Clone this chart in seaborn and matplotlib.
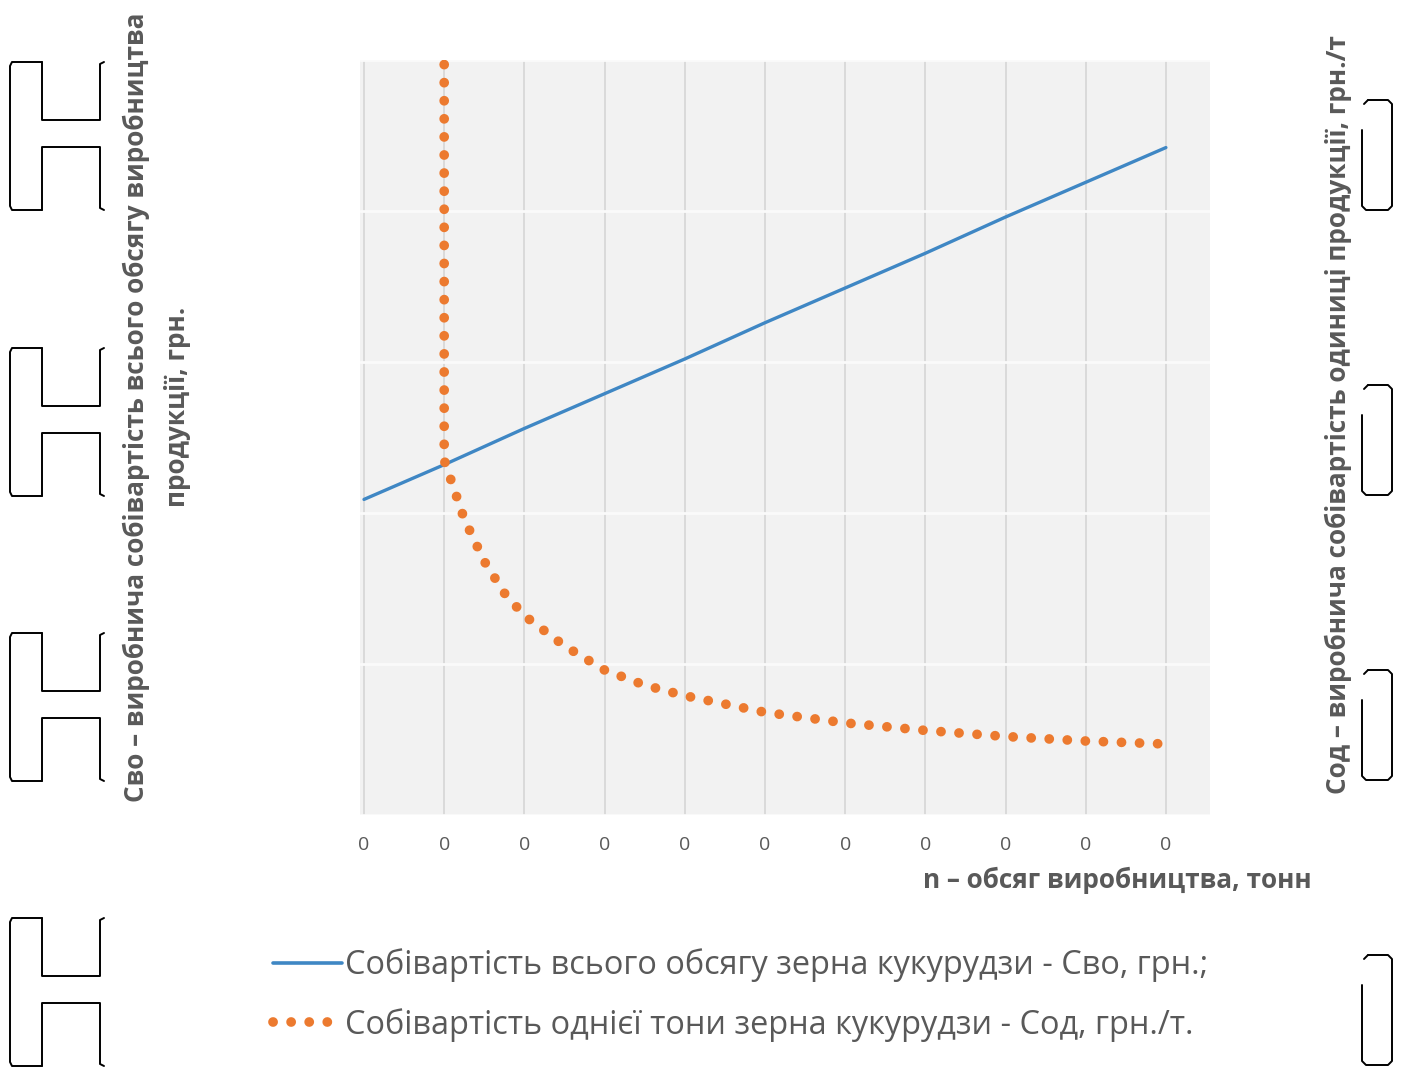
import numpy as np
import pandas as pd
import matplotlib
matplotlib.use("Agg")
import matplotlib.pyplot as plt
from matplotlib.lines import Line2D
import seaborn as sns

# дані
n_tick_labels = ["0"] * 11
n_total = [0, 1, 2, 3, 4, 5, 6, 7, 8, 9, 10]
c_total = [209, 232, 256, 279, 302, 326, 349, 372, 396, 419, 442]

n_unit = [1, 1, 1.25, 1.5, 1.75, 2, 2.5, 3, 3.5, 4, 5, 6, 7, 8, 9, 10]
c_unit = [497, 235, 196, 168, 147, 132, 112, 96, 86, 79, 68, 61, 56, 52, 49, 47]

label_total = "Собівартість всього обсягу зерна кукурудзи - Сво, грн.;"
label_unit = "Собівартість однієї тони зерна кукурудзи - Сод, грн./т."

sns.set_theme(style="white")
plt.rcParams['font.family'] = ['Open Sans', 'DejaVu Sans']

W, H = 1407, 1067
fig = plt.figure(figsize=(W / 100, H / 100), dpi=100)
ax = fig.add_axes([360 / W, 1 - 815 / H, 850 / W, 755 / H])
ax2 = ax.twinx()

gray = "#595959"
blue = "#3f87c4"
orange = "#ec7a2f"
dots = (0, (0.01, 1.85))

df_total = pd.DataFrame({"n": n_total, "c": c_total})
df_unit = pd.DataFrame({"n": n_unit, "c": c_unit})

sns.lineplot(data=df_total, x="n", y="c", ax=ax, color=blue, lw=2.4,
             sort=False, estimator=None, legend=False)
sns.lineplot(data=df_unit, x="n", y="c", ax=ax2, color=orange, lw=7,
             sort=False, estimator=None, legend=False)
for ln in ax2.get_lines():
    ln.set_linestyle(dots)
    ln.set_dash_capstyle("round")

ax.set_facecolor("#f2f2f2")
ax.set_xlim(-0.05, 10.55)
ax.set_ylim(0, 500)
ax2.set_ylim(0, 500)
ax.set_xticks(n_total)
ax.set_xticklabels(n_tick_labels, color=gray, fontsize=14)
ax.tick_params(axis="x", length=0, pad=15)
ax.set_yticks([0, 100, 200, 300, 400, 500])
ax.set_yticklabels([])
ax2.set_yticks([])
ax.tick_params(axis="y", length=0)
ax.grid(axis="x", color="#d6d6d6", lw=1.2)
ax.grid(axis="y", color="#fafafa", lw=2)
for a in (ax, ax2):
    for s in a.spines.values():
        s.set_visible(False)
ax.set_xlabel("")
ax.set_ylabel("")
ax2.set_ylabel("")

fig.text(157 / W, 1 - 407 / H,
         "Сво – виробнича собівартість всього обсягу виробництва\nпродукції, грн.",
         rotation=90, ha="center", va="center", fontsize=18.8, fontweight="bold",
         color=gray, linespacing=1.65, multialignment="center")
fig.text(1338 / W, 1 - 415 / H,
         "Сод – виробнича собівартість одиниці продукції, грн./т",
         rotation=90, ha="center", va="center", fontsize=18.8, fontweight="bold",
         color=gray)
fig.text(1312 / W, 1 - 880 / H, "n – обсяг виробництва, тонн",
         ha="right", va="center", fontsize=18.8, fontweight="bold", color=gray)

handles = [Line2D([], [], color=blue, lw=2.6),
           Line2D([], [], color=orange, lw=7, linestyle=dots,
                  dash_capstyle="round")]
leg = fig.legend(handles, [label_total, label_unit], loc="center left",
                 bbox_to_anchor=(244 / W, 1 - 995 / H), frameon=False,
                 fontsize=23.4, handlelength=2.1, handletextpad=0.12,
                 labelspacing=0.8, labelcolor=gray)


# биті гліфи підписів осі Y
def fig_line(xs, ys):
    fig.add_artist(Line2D([x / W for x in xs], [1 - y / H for y in ys],
                          transform=fig.transFigure, color="black", lw=1.4))


for y0 in [62, 348, 633, 918]:
    fig_line([42, 12, 10, 10, 12, 42], [y0, y0, y0 + 4, y0 + 144, y0 + 148, y0 + 148])
    fig_line([42, 42, 100, 100, 104], [y0, y0 + 58, y0 + 58, y0 + 2, y0])
    fig_line([104, 100, 100, 42, 42], [y0 + 148, y0 + 146, y0 + 85, y0 + 85, y0 + 148])

for y0 in [100, 385, 670, 955]:
    fig_line([1368, 1388, 1392, 1392, 1388, 1366, 1362, 1362],
             [y0, y0, y0 + 4, y0 + 106, y0 + 110, y0 + 110, y0 + 106, y0 + 30])
    fig_line([1368, 1364], [y0, y0 + 4])

fig.savefig("out.png", dpi=100)
